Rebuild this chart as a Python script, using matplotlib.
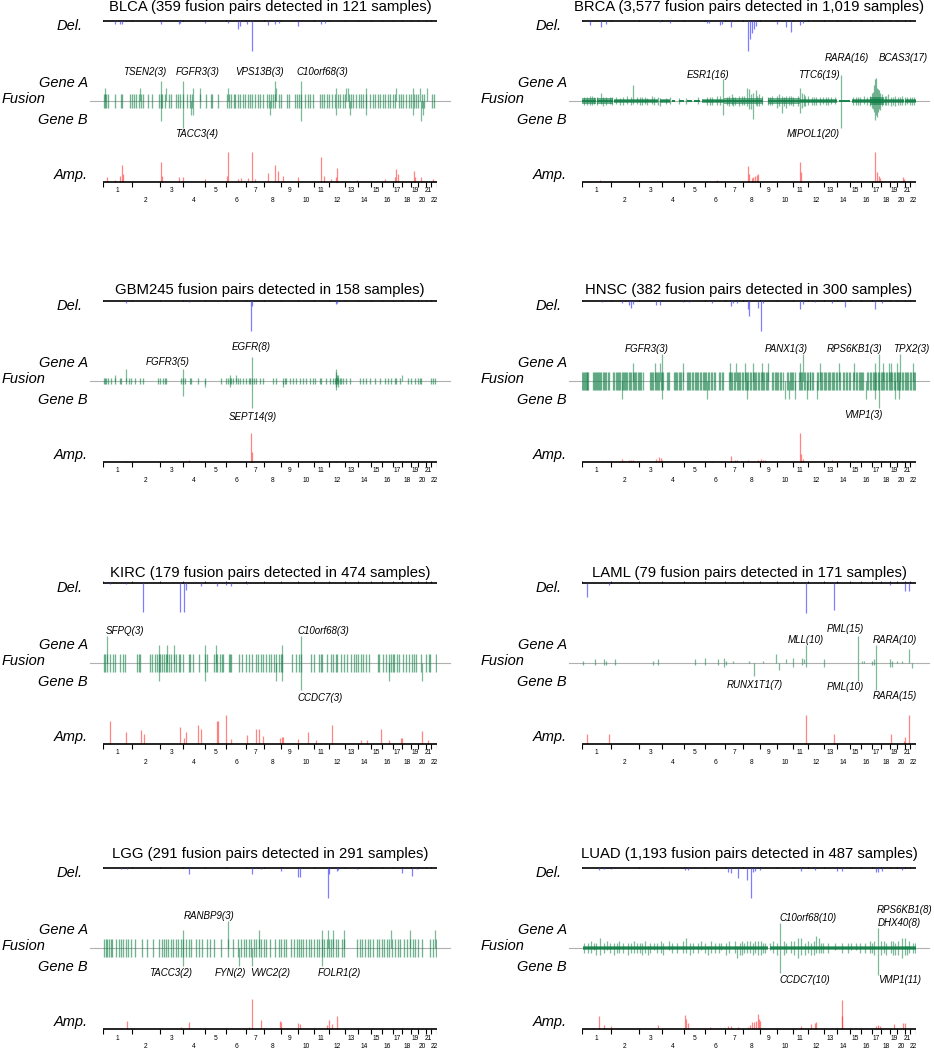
import numpy as np
import matplotlib.pyplot as plt

plt.rcParams['font.family'] = ['Liberation Sans', 'DejaVu Sans']

# chromosome sizes (hg19, Mb)
chrom_names = [str(i) for i in range(1, 23)]
chrom_len = [249, 243, 198, 191, 181, 171, 159, 146, 141, 136, 135,
             134, 115, 107, 103, 90, 81, 78, 59, 63, 48, 51]

# ---------------- BLCA ----------------
blca_del = [(101, 2.5), (150, 3), (167, 3), (503, 3), (653, 3), (661, 2), (877, 1.5), (1077, 1.5),
            (1164, 8), (1184, 5), (1241, 3), (1284, 30), (1422, 4), (1483, 3), (1517, 2), (1681, 5),
            (1883, 3), (1911, 2)]
blca_amp = [(38, 5), (101, 2), (150, 6), (163, 17), (175, 8), (503, 20), (509, 6), (655, 5), (690, 5),
            (877, 3), (1071, 6), (1077, 30), (1167, 3), (1190, 4), (1247, 4), (1284, 30), (1310, 3),
            (1422, 9), (1483, 17), (1509, 11), (1549, 6), (1681, 5), (1877, 25), (1906, 6), (1969, 3),
            (2006, 5), (2017, 14), (2187, 2), (2428, 3), (2520, 5), (2529, 13), (2543, 8), (2681, 11),
            (2693, 5), (2739, 5), (2845, 3)]
blca_pairs = [6, 17, 29, 40, 103, 152, 164, 235, 250, 264, 281, 310, 327, 344, 390, 419, 482, 497,
              511, 531, 568, 588, 626, 643, 660, 689, 726, 746, 766, 838, 890, 927, 941, 990, 1068,
              1085, 1102, 1125, 1142, 1162, 1182, 1205, 1228, 1254, 1269, 1286, 1314, 1335, 1355,
              1378, 1412, 1429, 1446, 1464, 1481, 1521, 1538, 1584, 1607, 1653, 1673, 1693, 1708,
              1745, 1765, 1785, 1808, 1871, 1888, 1909, 1929, 1952, 1975, 2003, 2023, 2043, 2066,
              2089, 2118, 2138, 2158, 2181, 2204, 2224, 2244, 2267, 2302, 2325, 2348, 2368, 2388,
              2411, 2434, 2454, 2474, 2497, 2520, 2549, 2569, 2589, 2612, 2635, 2658, 2681, 2698,
              2715, 2749, 2767, 2836, 2853]
blca_gene_a = [(14, 2), (322, 2), (503, 3), (540, 2), (689, 3), (776, 2), (838, 2), (1078, 2),
               (1480, 3), (1494, 2), (1710, 3), (2011, 2), (2097, 2), (2112, 2), (2264, 2),
               (2528, 2), (2672, 2), (2729, 2), (2795, 2)]
blca_gene_b = [(503, 3), (689, 4), (755, 2), (776, 2), (1437, 2), (1710, 3), (2011, 2), (2126, 2),
               (2270, 2), (2672, 2), (2744, 3), (2758, 2)]

# ---------------- BRCA ----------------
brca_del = [(66, 4), (161, 6), (204, 3), (671, 1), (757, 2), (1074, 2), (1097, 2), (1189, 4),
            (1203, 3), (1284, 6), (1428, 30), (1448, 18), (1465, 12), (1483, 8), (1500, 5),
            (1678, 3), (1759, 6), (1799, 11), (1880, 4), (1909, 2)]
brca_amp = [(66, 1), (153, 2), (239, 1), (671, 1.5), (1074, 1), (1166, 2), (1428, 16), (1437, 8),
            (1462, 4), (1477, 5), (1491, 6), (1506, 7), (1520, 8), (1880, 20), (1889, 10),
            (1952, 1), (2024, 1), (2528, 30), (2542, 10), (2556, 6), (2571, 4), (2686, 1),
            (2767, 5), (2772, 3)]
brca_band = [(0, 124, 2.2), (132, 268, 2.2), (274, 412, 1.8), (417, 656, 1.6), (671, 757, 1.3),
             (772, 803, 1.0), (832, 875, 1.0), (904, 947, 1.0), (967, 1019, 1.0), (1033, 1062, 1.2),
             (1062, 1220, 1.8), (1220, 1563, 2.2), (1606, 1880, 2.2), (1880, 2197, 1.8),
             (2211, 2312, 1.0), (2326, 2485, 1.8), (2485, 2600, 2.8), (2600, 2773, 1.8),
             (2787, 2879, 1.8)]
brca_gene_a = [(20, 3), (66, 4), (100, 3), (130, 3), (161, 6), (204, 3), (240, 3), (296, 3), (330, 2),
               (390, 4), (440, 12), (470, 3), (520, 3), (560, 2), (600, 4), (653, 3), (671, 2),
               (720, 2), (760, 3), (840, 2), (900, 2), (1000, 3), (1080, 3), (1100, 3), (1160, 4),
               (1214, 16), (1250, 3), (1290, 5), (1320, 3), (1350, 4), (1380, 4), (1420, 10),
               (1440, 9), (1477, 6), (1500, 8), (1530, 5), (1600, 3), (1640, 4), (1700, 5), (1722, 4),
               (1760, 4), (1800, 4), (1820, 3), (1880, 10), (1895, 6), (1920, 4), (1950, 4),
               (2000, 3), (2020, 3), (2080, 3), (2100, 3), (2150, 3), (2234, 19), (2340, 3),
               (2380, 3), (2430, 4), (2460, 3), (2500, 6), (2520, 12), (2528, 16), (2535, 17),
               (2545, 10), (2560, 8), (2590, 5), (2620, 4), (2640, 5), (2680, 3), (2700, 4),
               (2740, 3), (2760, 4), (2800, 3), (2830, 3), (2860, 3),
               (45, 3), (85, 4), (180, 3), (260, 3), (350, 3), (420, 3), (500, 3), (540, 3), (620, 3),
               (1120, 3), (1190, 4), (1270, 4), (1300, 3), (1400, 4), (1460, 5), (1510, 4), (1550, 4),
               (1620, 3), (1680, 4), (1740, 3), (1780, 4), (1860, 4), (1910, 5), (1980, 3), (2050, 3),
               (2120, 3), (2180, 3), (2360, 3), (2400, 3), (2480, 4), (2512, 7), (2552, 9), (2570, 6),
               (2610, 4), (2660, 3), (2720, 3), (2780, 3), (2845, 3)]
brca_gene_b = [(20, 3), (66, 3), (100, 2), (130, 3), (161, 2), (204, 3), (240, 2), (296, 2), (330, 3),
               (390, 2), (440, 2), (470, 2), (520, 3), (560, 3), (600, 2), (653, 3), (671, 4),
               (720, 2), (760, 2), (840, 2), (900, 2), (1000, 2), (1080, 3), (1100, 3), (1160, 3),
               (1214, 10), (1250, 3), (1290, 3), (1320, 3), (1350, 4), (1380, 3), (1420, 4),
               (1440, 6), (1477, 13), (1500, 3), (1530, 4), (1600, 3), (1640, 3), (1700, 4),
               (1722, 9), (1760, 5), (1800, 3), (1820, 4), (1880, 9), (1895, 5), (1920, 4),
               (1950, 3), (2000, 3), (2020, 3), (2080, 2), (2100, 3), (2150, 2), (2234, 20),
               (2340, 3), (2380, 3), (2430, 2), (2460, 3), (2500, 5), (2520, 8), (2528, 14),
               (2535, 10), (2545, 12), (2560, 6), (2590, 4), (2620, 3), (2640, 3), (2680, 3),
               (2700, 4), (2740, 3), (2760, 3), (2800, 2), (2830, 3), (2860, 3),
               (45, 3), (85, 3), (180, 4), (260, 3), (350, 3), (420, 3), (500, 3), (540, 2), (620, 3),
               (1120, 3), (1190, 3), (1270, 4), (1300, 4), (1400, 3), (1460, 6), (1510, 4), (1550, 3),
               (1620, 3), (1680, 5), (1740, 4), (1780, 3), (1860, 4), (1910, 4), (1980, 3), (2050, 3),
               (2120, 3), (2180, 2), (2360, 3), (2400, 3), (2480, 4), (2512, 6), (2552, 8), (2570, 7),
               (2610, 3), (2660, 4), (2720, 3), (2780, 3), (2845, 3)]

# ---------------- GBM ----------------
gbm_del = [(201, 2), (738, 1), (1278, 30), (1287, 5), (2011, 3), (2020, 2)]
gbm_amp = [(201, 1), (738, 2), (1278, 29), (1284, 10), (2011, 1.5)]
gbm_pairs = [6, 17, 29, 43, 72, 101, 144, 158, 201, 224, 244, 273, 316, 345, 474, 488, 517, 532,
             546, 675, 687, 704, 747, 761, 819, 876, 1020, 1063, 1077, 1092, 1106, 1120, 1149,
             1164, 1178, 1207, 1235, 1258, 1270, 1284, 1299, 1322, 1350, 1379, 1465, 1494, 1551,
             1566, 1580, 1609, 1638, 1666, 1695, 1724, 1753, 1781, 1810, 1824, 1867, 1882, 1925,
             1954, 1982, 1997, 2005, 2017, 2025, 2040, 2054, 2069, 2097, 2126, 2212, 2241, 2270,
             2298, 2341, 2385, 2428, 2457, 2485, 2514, 2528, 2557, 2629, 2658, 2686, 2715, 2729,
             2744, 2830, 2844, 2859]
gbm_gene_a = [(101, 2), (201, 4), (687, 4), (1092, 2), (1149, 2), (1284, 8), (2005, 4), (2011, 3),
              (2017, 2), (2025, 2), (2574, 2)]
gbm_gene_b = [(687, 5), (876, 2), (1092, 2), (1284, 9), (1551, 2), (2005, 3), (2011, 2), (2025, 2)]

# ---------------- HNSC ----------------
hnsc_del = [(176, 1), (345, 2), (406, 4), (426, 7), (440, 3), (642, 4), (671, 4), (872, 1), (924, 1),
            (1117, 2), (1284, 5), (1304, 2), (1333, 2), (1428, 8), (1442, 15), (1520, 7), (1540, 30),
            (1563, 2), (1880, 8), (1909, 3), (2010, 1), (2154, 2), (2269, 6), (2528, 8), (2585, 2)]
hnsc_amp = [(176, 1), (345, 3), (406, 2), (426, 2), (440, 2), (642, 3), (665, 5), (679, 4), (691, 2),
            (872, 1), (1117, 1), (1284, 6), (1319, 2), (1333, 2), (1428, 2), (1520, 2), (1540, 3),
            (1558, 2), (1578, 2), (1880, 29), (1889, 8), (1909, 3), (2154, 2), (2528, 1.5),
            (2600, 1.5), (2758, 1)]
hnsc_pairs = [2, 8, 15, 24, 31, 40, 47, 55, 93, 100, 110, 119, 127, 138, 146, 158, 166, 179, 190,
              199, 210, 221, 233, 271, 279, 290, 298, 309, 320, 328, 341, 350, 359, 371, 382, 390,
              403, 413, 424, 436, 445, 456, 468, 479, 488, 500, 511, 522, 588, 596, 607, 616, 628,
              636, 649, 657, 668, 679, 690, 698, 731, 744, 754, 790, 801, 812, 820, 833, 846, 857,
              869, 905, 913, 926, 935, 949, 958, 972, 981, 995, 1004, 1018, 1027, 1040, 1050, 1064,
              1073, 1088, 1096, 1111, 1120, 1134, 1143, 1178, 1192, 1203, 1215, 1263, 1272, 1286,
              1295, 1309, 1318, 1332, 1341, 1355, 1364, 1378, 1387, 1401, 1410, 1424, 1433, 1447,
              1456, 1470, 1479, 1493, 1502, 1516, 1525, 1539, 1548, 1562, 1571, 1585, 1594, 1605,
              1638, 1647, 1661, 1670, 1685, 1693, 1708, 1716, 1729, 1768, 1776, 1791, 1800, 1814,
              1823, 1835, 1869, 1877, 1892, 1900, 1915, 1923, 1938, 1946, 1961, 1969, 1984, 1993,
              2027, 2035, 2050, 2058, 2073, 2082, 2096, 2105, 2119, 2128, 2142, 2151, 2165, 2174,
              2188, 2197, 2211, 2221, 2251, 2260, 2275, 2284, 2299, 2309, 2338, 2347, 2361, 2370,
              2385, 2393, 2408, 2416, 2425, 2459, 2467, 2482, 2490, 2505, 2513, 2528, 2536, 2551,
              2559, 2574, 2582, 2597, 2605, 2620, 2628, 2643, 2651, 2666, 2674, 2689, 2697, 2712,
              2720, 2735, 2743, 2758, 2766, 2781, 2789, 2804, 2812, 2827, 2835, 2850, 2858, 2873]
hnsc_gene_a = [(440, 2), (628, 2), (671, 2), (691, 3), (872, 2), (1275, 2), (1327, 2), (1405, 2),
               (1477, 2), (1549, 2), (1607, 2), (1880, 2), (1903, 3), (2053, 2), (2211, 2), (2341, 2),
               (2528, 2), (2557, 3), (2594, 2), (2643, 2), (2666, 2), (2715, 2), (2744, 3), (2850, 2)]
hnsc_gene_b = [(345, 2), (691, 2), (1080, 2), (1419, 2), (1750, 2), (1788, 2), (1837, 2), (1938, 2),
               (2024, 2), (2450, 2), (2528, 2), (2557, 3), (2700, 2), (2729, 2)]

# ---------------- KIRC ----------------
kirc_del = [(63, 1), (202, 1), (343, 29), (668, 29), (697, 29), (717, 7), (846, 3), (985, 3),
            (1057, 2), (1100, 3), (1244, 1)]
kirc_amp = [(63, 23), (202, 12), (328, 14), (351, 10), (668, 17), (697, 6), (717, 12), (820, 19),
            (846, 15), (985, 23), (993, 23), (1057, 29), (1100, 5), (1244, 9), (1321, 15), (1344, 15),
            (1382, 8), (1526, 6), (1540, 7), (1555, 7), (1684, 5), (1768, 12), (1834, 4), (1978, 19),
            (2228, 4), (2272, 4), (2395, 15), (2462, 4), (2568, 6), (2580, 6), (2749, 13), (2804, 4)]
kirc_pairs = [6, 20, 35, 63, 86, 107, 150, 170, 187, 294, 308, 322, 409, 423, 446, 466, 481, 495,
              510, 530, 544, 553, 567, 590, 610, 625, 654, 668, 688, 740, 754, 774, 826, 875, 898,
              956, 970, 985, 1005, 1022, 1034, 1085, 1094, 1106, 1172, 1201, 1229, 1258, 1287, 1316,
              1339, 1359, 1379, 1402, 1431, 1445, 1474, 1488, 1517, 1532, 1546, 1632, 1661, 1690,
              1707, 1791, 1819, 1863, 1877, 1886, 1935, 1963, 1984, 2007, 2021, 2050, 2079, 2107,
              2136, 2165, 2179, 2194, 2223, 2237, 2266, 2295, 2367, 2381, 2410, 2438, 2462, 2482,
              2496, 2511, 2531, 2554, 2582, 2611, 2640, 2663, 2683, 2698, 2741, 2784, 2807, 2819, 2870]
kirc_gene_a = [(35, 3), (481, 2), (553, 2), (610, 2), (875, 2), (970, 2), (1546, 2), (1707, 3)]
kirc_gene_b = [(481, 2), (875, 2), (1488, 2), (1546, 2), (1707, 3), (2462, 2), (2749, 2)]

# ---------------- LAML ----------------
laml_del = [(43, 14), (233, 2), (1932, 30), (2168, 27), (2657, 2), (2787, 8), (2816, 8)]
laml_amp = [(43, 10), (233, 10), (1932, 29), (2168, 10), (2663, 10), (2772, 3), (2787, 7), (2816, 29)]
laml_gene_a = [(9, 1), (115, 2), (190, 2), (204, 1), (282, 2), (615, 1), (659, 2), (975, 2), (1061, 3),
               (1168, 2), (1226, 3), (1244, 1), (1301, 1), (1439, 1), (1558, 1), (1670, 5), (1758, 2),
               (1815, 3), (1896, 3), (1910, 2), (1932, 10), (2084, 2), (2378, 15), (2412, 1),
               (2427, 1), (2500, 1), (2515, 2), (2536, 10), (2657, 2), (2672, 1), (2715, 1),
               (2758, 1), (2816, 8)]
laml_gene_b = [(9, 1), (115, 1), (190, 1), (204, 1), (282, 1), (615, 1), (659, 1), (975, 1), (1061, 1),
               (1168, 1), (1226, 2), (1244, 1), (1480, 7), (1700, 4), (1815, 2), (1896, 1), (1932, 2),
               (2084, 2), (2378, 10), (2500, 1), (2515, 1), (2536, 15), (2657, 2), (2672, 2), (2846, 3)]

# ---------------- LGG ----------------
lgg_del = [(153, 1), (205, 1), (744, 6), (1287, 6), (1365, 1), (1538, 3), (1682, 9), (1696, 9),
           (1936, 30), (1950, 6), (2014, 3), (2028, 2), (2193, 1), (2576, 5), (2663, 8), (2706, 1)]
lgg_amp = [(153, 1), (205, 8), (672, 2), (744, 7), (1258, 2), (1287, 30), (1365, 9), (1523, 8),
           (1538, 7), (1682, 6), (1696, 5), (1927, 4), (1950, 9), (1970, 5), (2014, 13), (2193, 1),
           (2576, 1), (2663, 1), (2706, 1)]
lgg_pairs = [9, 23, 38, 52, 66, 81, 110, 138, 159, 176, 196, 219, 239, 274, 332, 375, 427, 485, 505,
             522, 542, 563, 586, 606, 629, 649, 672, 692, 716, 744, 759, 802, 831, 851, 897, 926, 961,
             1013, 1076, 1119, 1163, 1192, 1215, 1235, 1255, 1278, 1301, 1321, 1342, 1365, 1385,
             1408, 1437, 1480, 1515, 1538, 1561, 1581, 1624, 1647, 1668, 1688, 1705, 1725, 1754,
             1777, 1797, 1820, 1841, 1861, 1884, 1907, 1927, 1947, 1965, 1985, 2005, 2028, 2057,
             2077, 2187, 2216, 2236, 2259, 2282, 2302, 2331, 2360, 2380, 2403, 2426, 2449, 2467,
             2490, 2519, 2542, 2562, 2591, 2620, 2649, 2669, 2692, 2715, 2749, 2822, 2842, 2871]
lgg_gene_a = [(692, 2), (1076, 3), (1342, 2), (1884, 2), (1936, 2), (1980, 2), (2074, 2), (2485, 2),
              (2646, 2), (2865, 2)]
lgg_gene_b = [(692, 2), (1174, 2), (1284, 2), (1890, 2)]

# ---------------- LUAD ----------------
luad_del = [(150, 2), (193, 1), (250, 1), (884, 2), (913, 2), (1258, 4), (1287, 5), (1345, 10),
            (1425, 12), (1454, 30), (1474, 4), (1494, 3), (1532, 2), (1892, 3), (2007, 2), (2194, 3),
            (2237, 3), (2531, 4), (2554, 4), (2582, 3), (2755, 2)]
luad_amp = [(92, 1), (150, 13), (193, 4), (250, 3), (659, 4), (884, 14), (898, 10), (913, 6),
            (1100, 2), (1258, 3), (1287, 3), (1345, 2), (1431, 2), (1445, 4), (1465, 7), (1483, 7),
            (1503, 8), (1517, 15), (1526, 10), (1537, 8), (1892, 3), (1978, 5), (2007, 6), (2021, 7),
            (2237, 29), (2243, 13), (2531, 3), (2554, 4), (2568, 3), (2692, 5), (2770, 6), (2784, 6)]
luad_band = [(6, 135, 1.0), (135, 380, 0.8), (380, 625, 0.8), (625, 855, 0.7), (855, 1028, 0.8),
             (1028, 1287, 0.7), (1287, 1604, 0.9), (1618, 1776, 0.8), (1776, 2093, 0.9),
             (2093, 2295, 0.7), (2295, 2467, 0.7), (2467, 2640, 1.0), (2640, 2885, 0.9)]
luad_gene_a = [(50, 2), (100, 2), (158, 4), (279, 2), (350, 2), (470, 2), (567, 1), (620, 2), (754, 3),
               (898, 4), (960, 2), (1028, 3), (1085, 1), (1150, 2), (1200, 2), (1316, 3), (1339, 1),
               (1400, 2), (1445, 3), (1517, 3), (1560, 2), (1618, 2), (1710, 10), (1800, 3),
               (1863, 4), (1920, 2), (1978, 2), (2021, 5), (2060, 2), (2360, 2), (2500, 2), (2554, 8),
               (2600, 3), (2700, 2), (2755, 4), (2798, 1), (2850, 2),
               (20, 2), (75, 3), (120, 2), (190, 2), (215, 3), (240, 2), (300, 2), (320, 3), (400, 2),
               (420, 2), (445, 3), (500, 2), (520, 2), (545, 3), (590, 2), (650, 2), (680, 3), (700, 2),
               (780, 2), (820, 2), (870, 3), (930, 2), (1000, 2), (1060, 2), (1110, 3), (1180, 2),
               (1240, 2), (1270, 3), (1360, 2), (1380, 3), (1420, 3), (1470, 2), (1490, 3), (1540, 3),
               (1580, 2), (1650, 3), (1680, 2), (1740, 3), (1760, 2), (1830, 3), (1890, 4), (1950, 3),
               (2000, 3), (2040, 4), (2080, 2), (2120, 2), (2180, 2), (2240, 2), (2290, 2), (2320, 2),
               (2400, 2), (2440, 2), (2480, 3), (2520, 3), (2580, 3), (2620, 2), (2660, 3), (2680, 3),
               (2720, 3), (2780, 4), (2820, 3), (2870, 2)]
luad_gene_b = [(50, 2), (100, 1), (158, 3), (279, 3), (350, 2), (470, 2), (567, 3), (620, 1), (754, 1),
               (898, 2), (960, 2), (1028, 1), (1085, 3), (1150, 2), (1200, 1), (1316, 2), (1339, 4),
               (1400, 2), (1445, 2), (1517, 3), (1560, 2), (1618, 1), (1710, 10), (1800, 2),
               (1863, 4), (1920, 3), (1978, 3), (2021, 2), (2060, 2), (2360, 1), (2500, 2), (2554, 11),
               (2600, 2), (2700, 3), (2755, 4), (2798, 3), (2850, 2),
               (20, 2), (75, 2), (120, 3), (190, 2), (215, 1), (240, 2), (300, 2), (320, 2), (400, 3),
               (420, 2), (445, 2), (500, 2), (520, 3), (545, 2), (590, 2), (650, 2), (680, 2), (700, 3),
               (780, 2), (820, 2), (870, 2), (930, 3), (1000, 2), (1060, 2), (1110, 2), (1180, 2),
               (1240, 3), (1270, 2), (1360, 3), (1380, 3), (1420, 2), (1470, 3), (1490, 2), (1540, 3),
               (1580, 2), (1650, 2), (1680, 3), (1740, 3), (1760, 2), (1830, 3), (1890, 3), (1950, 2),
               (2000, 3), (2040, 2), (2080, 2), (2120, 2), (2180, 1), (2240, 2), (2290, 2), (2320, 1),
               (2400, 2), (2440, 2), (2480, 2), (2520, 3), (2580, 3), (2620, 3), (2660, 2), (2680, 3),
               (2720, 3), (2780, 3), (2820, 2), (2870, 2)]

# gene labels: (text, x in Mb, y offset in px below the Del. line)
blca_labels = [('TSEN2(3)', 364, 51), ('FGFR3(3)', 819, 51), ('VPS13B(3)', 1353, 51),
               ('C10orf68(3)', 1892, 51), ('TACC3(4)', 805, 113)]
brca_labels = [('ESR1(16)', 1086, 54), ('TTC6(19)', 2039, 54), ('RARA(16)', 2279, 37),
               ('BCAS3(17)', 2771, 37), ('MIPOL1(20)', 1989, 113)]
gbm_labels = [('FGFR3(5)', 556, 61), ('EGFR(8)', 1276, 46), ('SEPT14(9)', 1292, 116)]
hnsc_labels = [('FGFR3(3)', 555, 48), ('PANX1(3)', 1762, 48), ('RPS6KB1(3)', 2345, 48),
               ('TPX2(3)', 2839, 48), ('VMP1(3)', 2426, 114)]
kirc_labels = [('SFPQ(3)', 191, 48), ('C10orf68(3)', 1900, 48), ('CCDC7(3)', 1868, 115)]
laml_labels = [('MLL(10)', 1926, 57), ('PML(15)', 2269, 46), ('RARA(10)', 2695, 57),
               ('RUNX1T1(7)', 1486, 102), ('PML(10)', 2267, 104), ('RARA(15)', 2695, 113)]
lgg_labels = [('RANBP9(3)', 917, 48), ('TACC3(2)', 579, 105), ('FYN(2)', 1096, 105),
              ('VWC2(2)', 1437, 105), ('FOLR1(2)', 2036, 105)]
luad_labels = [('C10orf68(10)', 1950, 50), ('RPS6KB1(8)', 2784, 42), ('DHX40(8)', 2734, 55),
               ('CCDC7(10)', 1924, 112), ('VMP1(11)', 2734, 112)]

panels = [
    ('BLCA (359 fusion pairs detected in 121 samples)', blca_del, blca_amp, blca_pairs, blca_gene_a, blca_gene_b, [], blca_labels),
    ('BRCA (3,577 fusion pairs detected in 1,019 samples)', brca_del, brca_amp, [], brca_gene_a, brca_gene_b, brca_band, brca_labels),
    ('GBM245 fusion pairs detected in 158 samples)', gbm_del, gbm_amp, gbm_pairs, gbm_gene_a, gbm_gene_b, [], gbm_labels),
    ('HNSC (382 fusion pairs detected in 300 samples)', hnsc_del, hnsc_amp, hnsc_pairs, hnsc_gene_a, hnsc_gene_b, [], hnsc_labels),
    ('KIRC (179 fusion pairs detected in 474 samples)', kirc_del, kirc_amp, kirc_pairs, kirc_gene_a, kirc_gene_b, [], kirc_labels),
    ('LAML (79 fusion pairs detected in 171 samples)', laml_del, laml_amp, [], laml_gene_a, laml_gene_b, [], laml_labels),
    ('LGG (291 fusion pairs detected in 291 samples)', lgg_del, lgg_amp, lgg_pairs, lgg_gene_a, lgg_gene_b, [], lgg_labels),
    ('LUAD (1,193 fusion pairs detected in 487 samples)', luad_del, luad_amp, [], luad_gene_a, luad_gene_b, luad_band, luad_labels),
]

GREEN = '#138048'
BLUE = '#4646ff'
RED = '#ff2222'

W, H = 934, 1050
del_y = [21, 301, 583, 868]        # pixel row of the Del. line in each row
title_dy = [-14, -11, -10, -14]
col_x = [103, 582]
AX_W = 334
FUS, AMP = 80, 161

bounds = np.concatenate([[0], np.cumsum(chrom_len)])
mids = (bounds[:-1] + bounds[1:]) / 2
total = bounds[-1]

fig = plt.figure(figsize=(W / 100, H / 100), dpi=100)

for i, (title, dels, amps, pairs, gene_a, gene_b, band, labels) in enumerate(panels):
    r, c = divmod(i, 2)
    top = del_y[r] - 20
    ax = fig.add_axes([col_x[c] / W, 1 - (top + 210) / H, AX_W / W, 210 / H])
    ax.set_xlim(0, total)
    ax.set_ylim(190, -20)
    ax.axis('off')
    yx = ax.get_yaxis_transform()

    ax.text(0.5, title_dy[r], title, transform=yx, ha='center', va='center', fontsize=10.7)

    # deletion track
    ax.hlines(0, 0, total, color='black', lw=1.2)
    ax.vlines(bounds, -1.5, 0, color='black', lw=0.5)
    x, h = zip(*dels)
    ax.vlines(x, 0, h, color=BLUE, alpha=0.7, lw=0.9)

    # fusion track
    counts = [n for _, n in gene_a] + [n for _, n in gene_b]
    unit = 27 / max(counts)
    ax.plot([-0.038, 1.038], [FUS, FUS], transform=yx, color='#b0b0b0', lw=0.8, clip_on=False, zorder=0)
    if band:
        s, e, hh = (np.array(v, dtype=float) for v in zip(*band))
        # dense fusion regions: light outer envelope + darker core
        ax.bar(s, 2 * hh * unit, width=e - s, bottom=FUS - hh * unit, align='edge',
               color=GREEN, alpha=0.6, lw=0, antialiased=False)
        ax.bar(s, hh * unit, width=e - s, bottom=FUS - 0.5 * hh * unit, align='edge',
               color=GREEN, alpha=0.85, lw=0, antialiased=False)
    if pairs:
        ax.vlines(pairs, FUS - unit, FUS + unit, color=GREEN, alpha=0.6, lw=0.95)
    x, n = zip(*gene_a)
    ax.vlines(x, FUS - np.array(n) * unit, FUS, color=GREEN, alpha=0.55, lw=0.9)
    x, n = zip(*gene_b)
    ax.vlines(x, FUS, FUS + np.array(n) * unit, color=GREEN, alpha=0.55, lw=0.9)
    for txt, lx, ly in labels:
        ax.text(lx, ly, txt, ha='center', va='center', style='italic', fontsize=7, clip_on=False)

    # amplification track
    x, h = zip(*amps)
    ax.vlines(x, AMP - np.array(h), AMP, color=RED, alpha=0.55, lw=0.9)
    ax.hlines(AMP, 0, total, color='black', lw=1.2)
    ax.vlines(bounds, AMP, AMP + 4.5, color='black', lw=0.8)
    for k, name in enumerate(chrom_names):
        ax.text(mids[k], 170 if k % 2 == 0 else 179, name, ha='center', va='center', fontsize=4.8)

    # track names
    for txt, dx, yy, ha in [('Del.', -20, 5, 'right'), ('Gene A', -15, 62, 'right'),
                            ('Fusion', -101, 78, 'left'), ('Gene B', -15, 99, 'right'),
                            ('Amp.', -15, 154, 'right')]:
        ax.text(dx / AX_W, yy, txt, transform=yx, ha=ha, va='center', style='italic', fontsize=10.5)

fig.savefig('out.png', dpi=100)
